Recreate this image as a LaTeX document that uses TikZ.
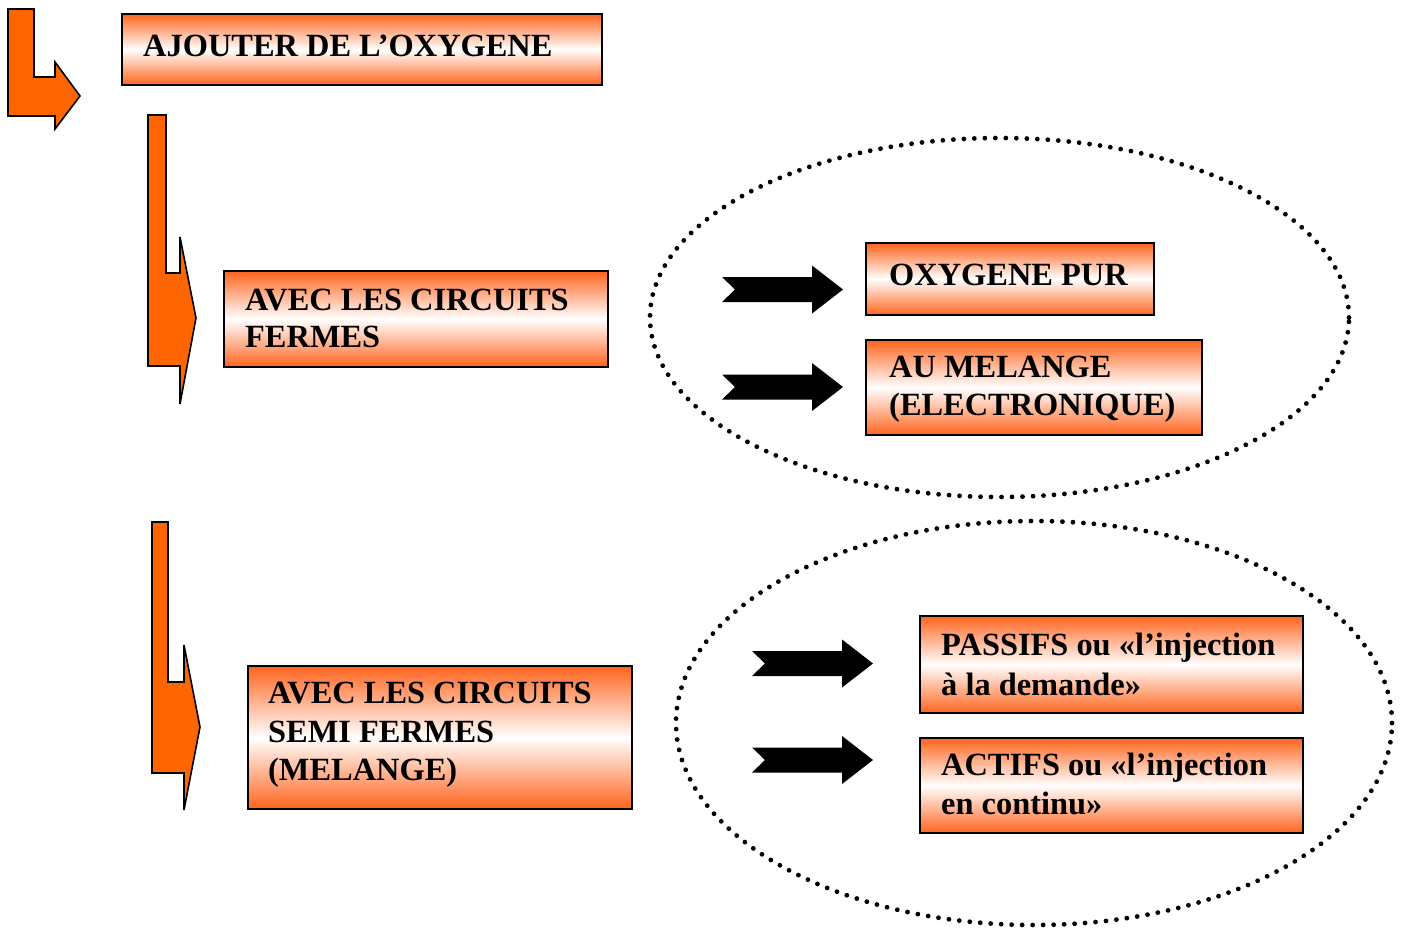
\documentclass[tikz,border=0pt]{standalone}
\usepackage{fontspec}
\setmainfont{Liberation Serif}
\definecolor{arrorange}{RGB}{255,102,0}
\definecolor{boxorange}{RGB}{255,100,30}
\begin{document}
\begin{tikzpicture}[x=1pt,y=-1pt,
  gbox/.style={draw=black,line width=1.6pt,top color=boxorange,bottom color=boxorange,middle color=white},
  lbl/.style={anchor=base west,inner sep=0pt,font=\fontsize{32.4}{38}\selectfont\bfseries},
  bent/.style={fill=arrorange,draw=black,line width=1.6pt,line join=miter},
  dotring/.style={draw=black,line width=4.8pt,dash pattern=on 0pt off 10.5pt,line cap=round},
  barrow/.pic={\fill[black] (0,-12.5) -- (90,-12.5) -- (90,-24) -- (121,0) -- (90,24) -- (90,12.5) -- (0,12.5) -- (13,0) -- cycle;}
]
\useasboundingbox (0,0) rectangle (1402,928);

% dotted ellipses
\draw[dotring] (999.5,317.5) ellipse [x radius=349.5pt, y radius=179.5pt];
\draw[dotring] (1034,723) ellipse [x radius=358pt, y radius=202pt];

% orange bent arrows
\draw[bent] (8,9) -- (34,9) -- (34,77) -- (55,77) -- (55,62) -- (80,96) -- (55,129) -- (55,116) -- (8,116) -- cycle;
\draw[bent] (148,115) -- (166,115) -- (166,273) -- (180,273) -- (180,237) -- (196,318) -- (180,404) -- (180,366) -- (148,366) -- cycle;
\draw[bent] (152,522) -- (168,522) -- (168,682) -- (184,682) -- (184,645) -- (200,727) -- (184,810) -- (184,773) -- (152,773) -- cycle;

% boxes
\path[gbox] (122,14) rectangle (602,85);
\path[gbox] (224,271) rectangle (608,367);
\path[gbox] (866,243) rectangle (1154,315);
\path[gbox] (866,340) rectangle (1202,435);
\path[gbox] (248,666) rectangle (632,809);
\path[gbox] (920,616) rectangle (1303,713);
\path[gbox] (920,738) rectangle (1303,833);

% texts
\node[lbl] (t1) at (143,57) {AJOUTER DE L’OXYGENE};
\node[lbl] (t2a) at (245,310) {AVEC LES CIRCUITS};
\node[lbl] (t2b) at (245,347) {FERMES};
\node[lbl] (t3) at (889,285) {OXYGENE PUR};
\node[lbl] (t4a) at (889,377) {AU MELANGE};
\node[lbl] (t4b) at (889,415) {(ELECTRONIQUE)};
\node[lbl] (t5a) at (268,703) {AVEC LES CIRCUITS};
\node[lbl] (t5b) at (268,742) {SEMI FERMES};
\node[lbl] (t5c) at (268,780) {(MELANGE)};
\node[lbl] (t6a) at (941,655) {PASSIFS ou «l’injection};
\node[lbl] (t6b) at (941,695) {à la demande»};
\node[lbl] (t7a) at (941,775) {ACTIFS ou «l’injection};
\node[lbl] (t7b) at (941,814) {en continu»};

% black arrows
\pic at (722,289.5) {barrow};
\pic at (722,387) {barrow};
\pic at (752,663.5) {barrow};
\pic at (752,760) {barrow};
\end{tikzpicture}
\end{document}
